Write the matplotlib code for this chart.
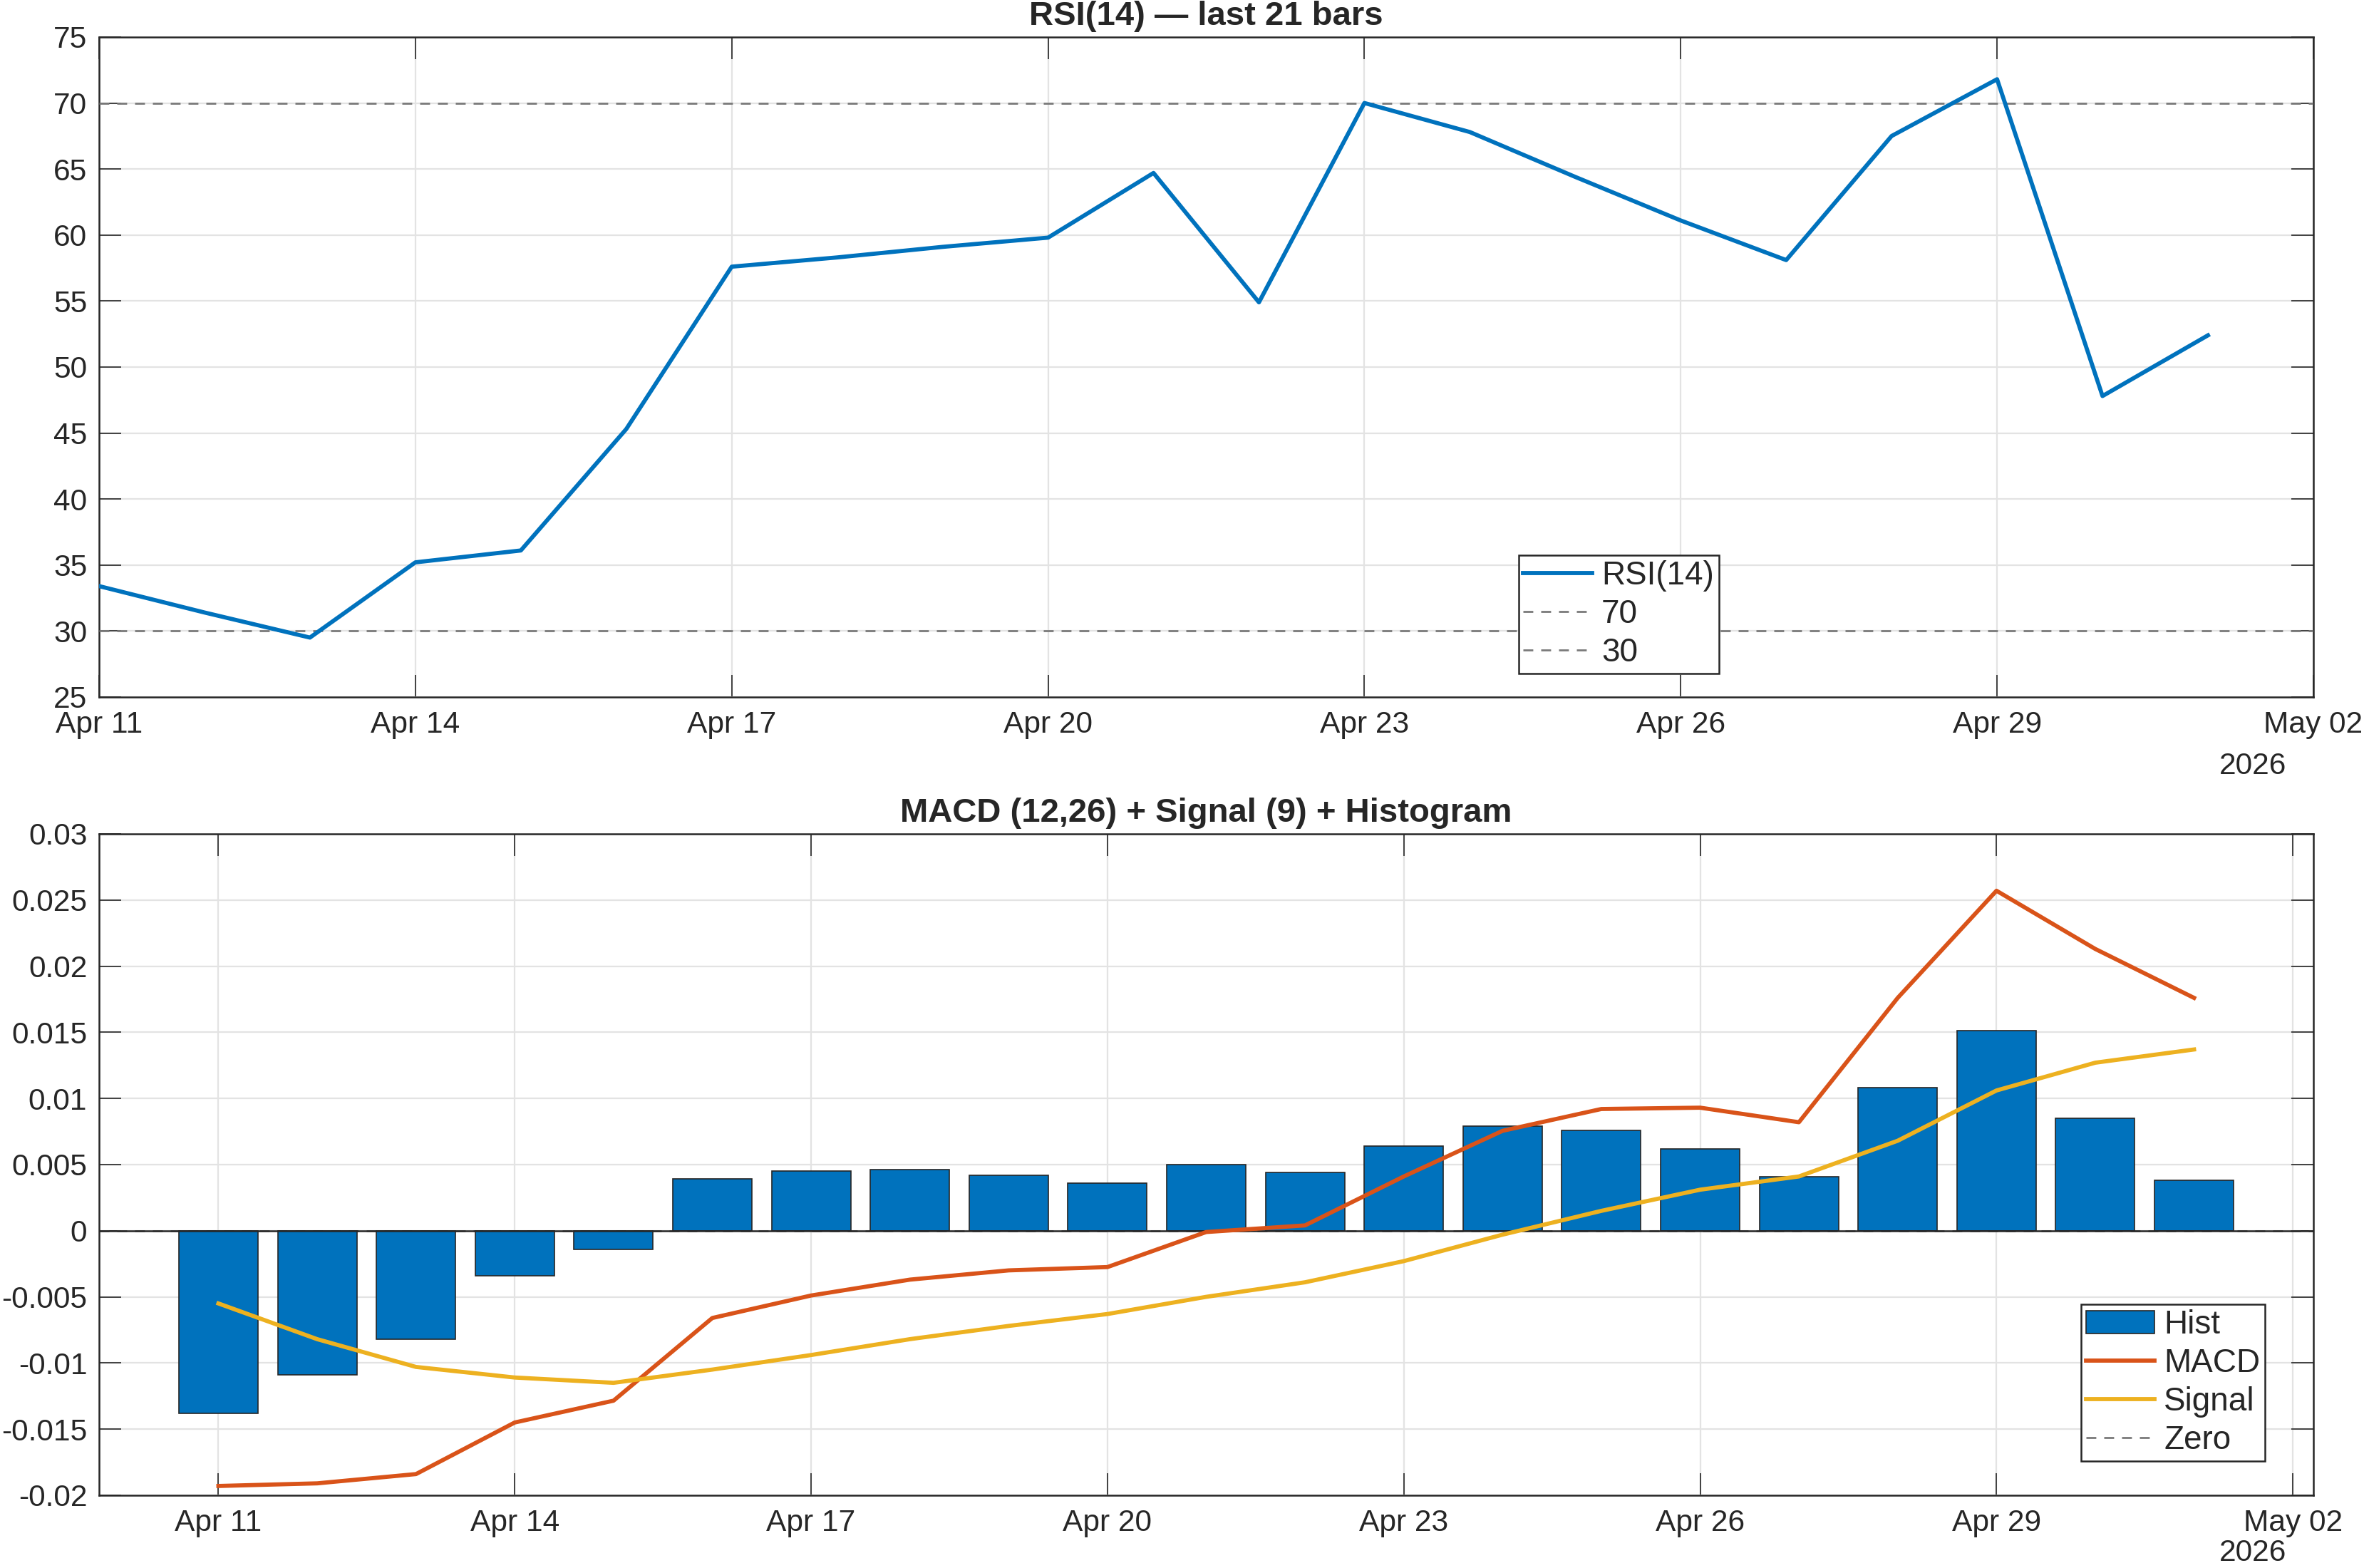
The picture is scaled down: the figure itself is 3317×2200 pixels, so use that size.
import numpy as np
import pandas as pd
import matplotlib
matplotlib.use("Agg")
from matplotlib import pyplot as plt
from matplotlib import dates as mdates
from matplotlib.ticker import FuncFormatter

# bars: Apr 11 .. May 01 2026
dates = pd.date_range("2026-04-11", "2026-05-01", freq="D")
rsi = [33.4, 31.4, 29.5, 35.2, 36.1, 45.3, 57.6, 58.3, 59.1, 59.8, 64.7,
       54.9, 70.0, 67.8, 64.4, 61.1, 58.1, 67.5, 71.8, 47.8, 52.4]
macd = [-0.0193, -0.0191, -0.0184, -0.0145, -0.01285, -0.0066, -0.0049, -0.0037,
        -0.0030, -0.00275, -0.0001, 0.0004, 0.0041, 0.00755, 0.0092, 0.0093,
        0.0082, 0.0176, 0.0257, 0.0213, 0.0176]
signal = [-0.0055, -0.0082, -0.0103, -0.0111, -0.0115, -0.0105, -0.0094, -0.0082,
          -0.0072, -0.0063, -0.0050, -0.0039, -0.0023, -0.0003, 0.0015, 0.0031,
          0.0041, 0.0068, 0.0106, 0.0127, 0.0137]
hist = [-0.0138, -0.0109, -0.0082, -0.0034, -0.0014, 0.0039, 0.0045, 0.0046,
        0.0042, 0.0036, 0.0050, 0.0044, 0.0064, 0.0079, 0.0076, 0.0062,
        0.0041, 0.0108, 0.0151, 0.0085, 0.0038]
xticks = pd.date_range("2026-04-11", "2026-05-02", freq="3D")

DARK = "#262626"
BLUE = "#0072BD"
ORANGE = "#D95319"
YELLOW = "#EDB120"
REF = "#7a7a7a"

plt.rcParams["font.family"] = ["Liberation Sans", "DejaVu Sans"]
plt.rcParams["text.color"] = DARK

fig = plt.figure(figsize=(16.585, 11), dpi=200)
ax1 = fig.add_axes([0.0419, 0.5555, 0.9367, 0.4209])
ax2 = fig.add_axes([0.0419, 0.0464, 0.9367, 0.4218])


def style(ax, year_y):
    ax.set_axisbelow(True)
    ax.grid(True, color="#e3e3e3", lw=0.8)
    for s in ax.spines.values():
        s.set_color(DARK)
        s.set_linewidth(0.9)
    ax.tick_params(direction="in", length=11, width=0.6, colors=DARK,
                   labelsize=15.3, top=True, right=True, pad=7)
    ax.tick_params(axis="y", pad=6)
    ax.set_xticks(xticks)
    ax.xaxis.set_major_formatter(mdates.DateFormatter("%b %d"))
    ax.text(0.988, year_y, "2026", transform=ax.transAxes, ha="right",
            va="top", fontsize=15.3, color=DARK)


def legend(ax, handles, anchor):
    leg = ax.legend(handles=handles, loc="lower left", bbox_to_anchor=anchor,
                    fontsize=16.5, frameon=True, fancybox=False,
                    edgecolor=DARK, framealpha=1, handlelength=2.1,
                    handletextpad=0.29, borderpad=0.15, labelspacing=0.22,
                    borderaxespad=0)
    leg.get_frame().set_linewidth(0.9)


# RSI panel
l_rsi, = ax1.plot(dates, rsi, color=BLUE, lw=2.1, label="RSI(14)", zorder=4)
l70 = ax1.axhline(70, color=REF, lw=1.0, ls=(0, (5, 4)), label="70", zorder=3)
l30 = ax1.axhline(30, color=REF, lw=1.0, ls=(0, (5, 4)), label="30", zorder=3)
ax1.set_xlim(pd.Timestamp("2026-04-11"), pd.Timestamp("2026-05-02"))
ax1.set_ylim(25, 75)
ax1.set_yticks(np.arange(25, 76, 5))
style(ax1, -0.083)
ax1.set_title("RSI(14) — last 21 bars", fontsize=17, fontweight="bold",
              color=DARK, pad=6)
legend(ax1, [l_rsi, l70, l30], (0.641, 0.0356))

# MACD panel
bars = ax2.bar(dates, hist, width=0.8, color=BLUE, edgecolor=DARK, lw=0.6,
               label="Hist", zorder=2)
l_macd, = ax2.plot(dates, macd, color=ORANGE, lw=2.1, label="MACD", zorder=4)
l_sig, = ax2.plot(dates, signal, color=YELLOW, lw=2.1, label="Signal", zorder=4)
l_zero = ax2.axhline(0, color=REF, lw=1.0, ls=(0, (5, 4)), label="Zero", zorder=1)
ax2.axhline(0, color=DARK, lw=0.9, zorder=3)
ax2.set_xlim(pd.Timestamp("2026-04-11") - pd.Timedelta(hours=29),
             pd.Timestamp("2026-05-01") + pd.Timedelta(hours=29))
ax2.set_ylim(-0.02, 0.03)
ax2.set_yticks(np.arange(-0.02, 0.0301, 0.005))
ax2.yaxis.set_major_formatter(FuncFormatter(lambda v, p: "%g" % round(v, 6)))
style(ax2, -0.066)
ax2.set_title("MACD (12,26) + Signal (9) + Histogram", fontsize=17,
              fontweight="bold", color=DARK, pad=6)
legend(ax2, [bars, l_macd, l_sig, l_zero], (0.895, 0.0517))

fig.savefig("out.png", dpi=200)
